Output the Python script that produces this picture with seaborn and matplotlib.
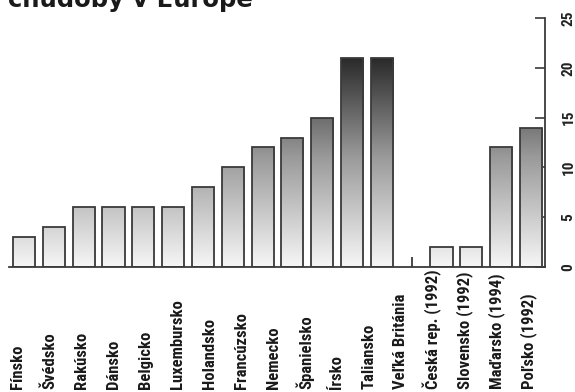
import numpy as np
import pandas as pd
import matplotlib
matplotlib.use("Agg")
import matplotlib.pyplot as plt
import seaborn as sns
from matplotlib.colors import LinearSegmentedColormap
from matplotlib import font_manager

# ---- data ----
title = "chudoby v Európe"
country_labels = ["Fínsko", "Švédsko", "Rakúsko", "Dánsko", "Belgicko",
                  "Luxembursko", "Holandsko", "Francúzsko", "Nemecko",
                  "Španielsko", "Írsko", "Taliansko", "Veľká Británia",
                  "Česká rep. (1992)", "Slovensko (1992)", "Maďarsko (1994)",
                  "Poľsko (1992)"]
bar_values = [3, 4, 6, 6, 6, 6, 8, 10, 12, 13, 15, 21, 21, np.nan, 2, 2, 12, 14]
stub_values = [np.nan] * 13 + [1] + [np.nan] * 4
y_ticks = [0, 5, 10, 15, 20, 25]

sns.set_theme(style="white")
available = {f.name for f in font_manager.fontManager.ttflist}
narrow = None
for cand in ["Liberation Sans Narrow", "Roboto Condensed", "Open Sans Condensed",
             "DejaVu Sans Condensed"]:
    if cand in available:
        narrow = cand
        break
if narrow is None:
    narrow = "DejaVu Sans"
plt.rcParams["font.family"] = [narrow, "DejaVu Sans"]

fig = plt.figure(figsize=(5.75, 3.92), dpi=100)
ax = fig.add_axes([9 / 575, 125 / 392, 536 / 575, 249 / 392])

slots = [f"s{i}" for i in range(len(bar_values))]
df = pd.DataFrame({"slot": slots, "value": bar_values})
edge = "#3a3a3a"
sns.barplot(data=df, x="slot", y="value", order=slots, ax=ax, width=0.74,
            facecolor="none", edgecolor=edge, linewidth=1.3, errorbar=None)

cmap = LinearSegmentedColormap.from_list("g", ["#f6f6f6", "#9a9a9a", "#1e1e1e"])
for p in list(ax.patches):
    h = p.get_height()
    if not np.isfinite(h) or h <= 0:
        continue
    x0 = p.get_x()
    w = p.get_width()
    grad = np.linspace(0, h, 256).reshape(-1, 1)
    im = ax.imshow(grad, extent=(x0, x0 + w, 0, h), origin="lower", aspect="auto",
                   cmap=cmap, vmin=0, vmax=22, zorder=1)
    im.set_clip_path(p)
    p.set_zorder(2)

stub_x = [i for i, v in enumerate(stub_values) if np.isfinite(v)]
stub_h = [v for v in stub_values if np.isfinite(v)]
ax.vlines(stub_x, 0, stub_h, color=edge, linewidth=1.3, zorder=3)

ax.set_xlim(-0.503, 17.47)
ax.set_ylim(0, 25)
ax.set_xticks([])
ax.set_xlabel("")
ax.set_ylabel("")

for s in ["left", "top"]:
    ax.spines[s].set_visible(False)
for s in ["right", "bottom"]:
    ax.spines[s].set_visible(True)
    ax.spines[s].set_color(edge)
    ax.spines[s].set_linewidth(1.3)

# label axis (labels spaced independently from bars, as in the original)
ax2 = ax.twiny()
ax2.set_xlim(-0.282, 16.53)
ax2.set_xticks(range(len(country_labels)))
ax2.xaxis.set_ticks_position("bottom")
ax2.xaxis.set_label_position("bottom")
ax2.tick_params(axis="x", length=0, pad=88, labelsize=12, labelcolor="#1a1a1a")
ax2.set_xticklabels(country_labels, rotation=90, va="bottom", ha="center",
                    fontweight="bold")
for s in ax2.spines.values():
    s.set_visible(False)

# y axis on the right (set after twin creation)
ax.yaxis.tick_right()
ax.set_yticks(y_ticks)
ax.set_yticklabels([str(t) for t in y_ticks])
ax.tick_params(axis="y", which="both", direction="in", length=7, width=1.2,
               color=edge, pad=12, labelsize=11, labelrotation=90,
               labelcolor="#222222", right=True, left=False,
               labelright=True, labelleft=False)
for lbl in ax.get_yticklabels():
    lbl.set_fontweight("bold")
    lbl.set_va("center")

fig.text(8 / 575, 1 - 7.5 / 392, title, ha="left", va="baseline",
         fontsize=17.5, fontweight="bold", family="DejaVu Sans", color="#1a1a1a")

fig.savefig("out.png", dpi=100)
